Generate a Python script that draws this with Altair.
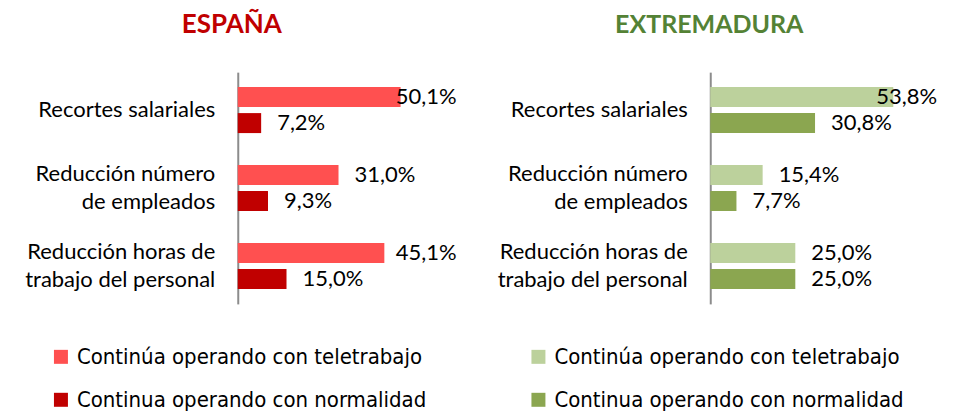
import altair as alt
import pandas as pd
import numpy as np

categories = ["Recortes salariales",
              "Reducción número\nde empleados",
              "Reducción horas de\ntrabajo del personal"]
series = ["Continúa operando con teletrabajo", "Continua operando con normalidad"]

espana_tele = [50.1, 31.0, 45.1]
espana_norm = [7.2, 9.3, 15.0]
extre_tele = [53.8, 15.4, 25.0]
extre_norm = [30.8, 7.7, 25.0]

FONT = "Lato"
LFONT = "DejaVu Sans Condensed"


def make_df(tele, norm, cap):
    rows = []
    for c, t, n in zip(categories, tele, norm):
        for s, v in ((series[0], t), (series[1], n)):
            rows.append({"cat": c, "series": s, "value": v,
                         "lx": min(v, cap),
                         "label": f"{v:.1f}%".replace(".", ",")})
    return pd.DataFrame(rows)


def panel(df, title, tcolor, tsize, tdx, colors, xmax, width, legend_x):
    base = alt.Chart(df)
    y = alt.Y("cat:N", sort=categories,
              scale=alt.Scale(paddingInner=0.41, paddingOuter=0.192),
              axis=alt.Axis(title=None, ticks=False, domain=True,
                            domainColor="#8c8c8c", domainWidth=2,
                            labelExpr="split(datum.label, '\\n')",
                            labelOffset=alt.condition("indexof(datum.value, '\\n') >= 0",
                                                      alt.value(-14), alt.value(0)),
                            labelFont=FONT, labelFontSize=22, labelColor="#000000",
                            labelPadding=23, labelLineHeight=28, labelLimit=400,
                            minExtent=230, maxExtent=230))
    yoff = alt.YOffset("series:N", sort=series,
                       scale=alt.Scale(paddingInner=0.2308, paddingOuter=0))
    xs = alt.Scale(domain=[0, xmax], nice=False, zero=True)
    bars = base.mark_bar().encode(
        x=alt.X("value:Q", scale=xs, axis=None),
        y=y, yOffset=yoff,
        color=alt.Color("series:N", sort=series,
                        scale=alt.Scale(domain=series, range=colors),
                        legend=alt.Legend(title=None, orient="none",
                                          legendX=legend_x, legendY=274,
                                          direction="vertical", symbolType="square",
                                          symbolSize=196, symbolStrokeWidth=0,
                                          labelFont=LFONT, labelFontSize=22,
                                          labelColor="#000000", labelLimit=500,
                                          rowPadding=21, labelOffset=5)),
    )
    text = base.mark_text(align="left", baseline="middle", dx=16,
                          font=FONT, fontSize=22, color="#000000").encode(
        x=alt.X("lx:Q", scale=xs, axis=None),
        y=y, yOffset=yoff,
        text="label:N",
    )
    return alt.layer(bars, text).properties(
        width=width, height=232,
        title=alt.Title(title, color=tcolor, font=FONT, fontSize=tsize,
                        fontWeight="bold", anchor="start", align="center",
                        dx=tdx, offset=34, frame="group"),
    )


left = panel(make_df(espana_tele, espana_norm, 43.7), "ESPAÑA", "#C00000", 26, -6,
             ["#FF5050", "#C00000"], 67, 218, -188)
right = panel(make_df(extre_tele, extre_norm, 44.1), "EXTREMADURA", "#548235", 25, -1,
              ["#BCD19C", "#8BA650"], 69, 235, -183)

chart = alt.hconcat(left, right, spacing=23).resolve_scale(
    color="independent", x="independent", y="independent"
).resolve_legend(color="independent").configure_view(stroke=None).properties(
    padding={"top": 4, "left": 0, "right": 0, "bottom": 0}
)

chart.save("out.html", embed_options={"renderer": "svg", "actions": False})
